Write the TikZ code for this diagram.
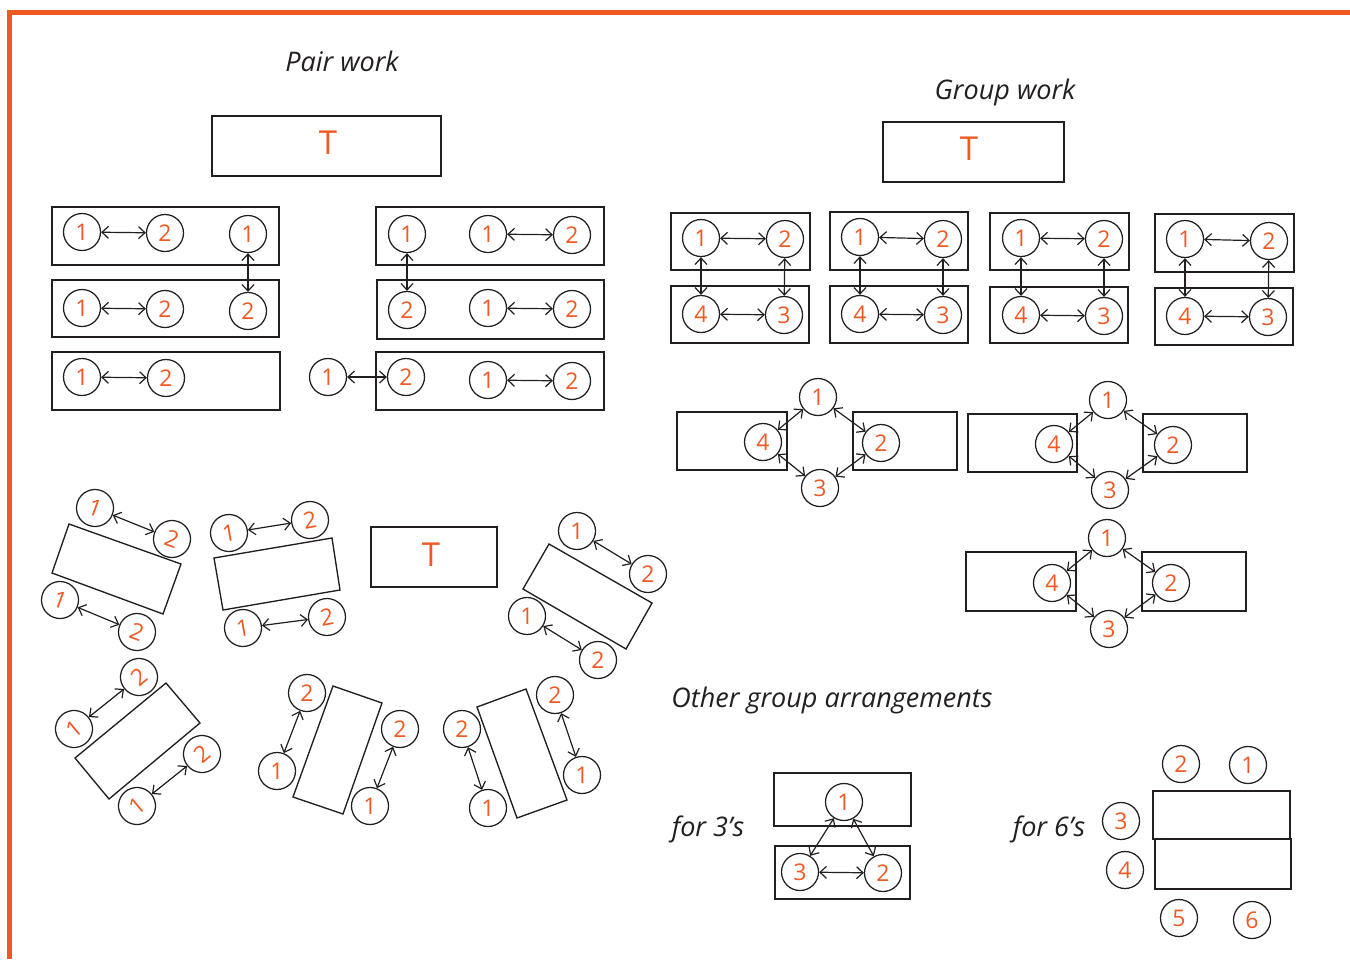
\documentclass[tikz,border=0pt]{standalone}
\usepackage{fontspec}
\setmainfont{Open Sans}
\usetikzlibrary{arrows.meta}
\definecolor{brand}{HTML}{EF5A24}
\definecolor{ink}{HTML}{231F20}
\tikzset{
  seat/.style={circle, draw=ink, line width=1.25pt, minimum size=37pt, inner sep=0pt,
    text=brand, font=\fontsize{23}{23}\selectfont},
  desk/.style={draw=ink, line width=1.35pt},
  link/.style={draw=ink, line width=1.2pt,
    {Straight Barb[length=6.5pt,width=12pt]}-{Straight Barb[length=6.5pt,width=12pt]}},
  title/.style={text=ink, font=\fontsize{27}{32}\selectfont\itshape},
  teacher/.style={text=brand, font=\fontsize{33}{33}\selectfont},
}
\begin{document}
\begin{tikzpicture}[x=1pt,y=-1pt]
\useasboundingbox (0,0) rectangle (1350,959);
% border
\draw[brand, line width=5pt] (9.5,959) -- (9.5,12) -- (1352,12);

% titles
\node[title] (tpair) at (342,61) {Pair work};
\node[title] (tgroup) at (1005,92) {Group work};
\node[title] (tother) at (832,700) {Other group arrangements};
\node[title] (t3) at (708,829) {for 3’s};
\node[title] (t6) at (1049,829) {for 6’s};

% teacher desks
\draw[desk] (212,116) rectangle (441,176);
\node[teacher] (T1) at (328,143) {T};
\draw[desk] (883,122) rectangle (1064,182);
\node[teacher] (T2) at (969,149) {T};
\draw[desk] (371,527) rectangle (497,587);
\node[teacher] (T3) at (431,555) {T};

% ---------- Pair work, left block
\draw[desk] (52,207) rectangle (279,265);
\draw[desk] (52,280) rectangle (279,337);
\draw[desk] (52,352) rectangle (280,410);
\node[seat] (a11) at (82,232) {1};
\node[seat] (a12) at (165,233) {2};
\node[seat] (a13) at (248,234) {1};
\node[seat] (a21) at (82,308) {1};
\node[seat] (a22) at (165,309) {2};
\node[seat] (a23) at (248,311) {2};
\node[seat] (a31) at (82,377) {1};
\node[seat] (a32) at (166,378) {2};
\draw[link] (a11) -- (a12);
\draw[link] (a21) -- (a22);
\draw[link] (a31) -- (a32);
\draw[link] (a13) -- (a23);

% ---------- Pair work, right block
\draw[desk] (376,207) rectangle (604,265);
\draw[desk] (377,280) rectangle (604,339);
\draw[desk] (376,352) rectangle (604,410);
\node[seat] (b11) at (407,234) {1};
\node[seat] (b12) at (488,234) {1};
\node[seat] (b13) at (572,235) {2};
\node[seat] (b21) at (407,310) {2};
\node[seat] (b22) at (488,308) {1};
\node[seat] (b23) at (572,309) {2};
\node[seat] (b30) at (328,377) {1};
\node[seat] (b31) at (406,377) {2};
\node[seat] (b32) at (488,380) {1};
\node[seat] (b33) at (572,381) {2};
\draw[link] (b12) -- (b13);
\draw[link] (b22) -- (b23);
\draw[link] (b32) -- (b33);
\draw[link] (b11) -- (b21);
\draw[link] (b30) -- (b31);

% ---------- Group work, four sets
\draw[desk] (671,213) rectangle (810,270);
\draw[desk] (671,286) rectangle (809,343);
\draw[desk] (830,212) rectangle (968,270);
\draw[desk] (830,286) rectangle (968,343);
\draw[desk] (990,213) rectangle (1129,270);
\draw[desk] (990,287) rectangle (1128,343);
\draw[desk] (1155,214) rectangle (1294,272);
\draw[desk] (1155,288) rectangle (1293,345);

\node[seat] (g1a) at (701,238) {1};
\node[seat] (g1b) at (785,239) {2};
\node[seat] (g1c) at (784,315) {3};
\node[seat] (g1d) at (701,314) {4};
\node[seat] (g2a) at (860,237) {1};
\node[seat] (g2b) at (943,239) {2};
\node[seat] (g2c) at (943,315) {3};
\node[seat] (g2d) at (860,314) {4};
\node[seat] (g3a) at (1021,238) {1};
\node[seat] (g3b) at (1104,239) {2};
\node[seat] (g3c) at (1104,316) {3};
\node[seat] (g3d) at (1021,315) {4};
\node[seat] (g4a) at (1185,239) {1};
\node[seat] (g4b) at (1269,241) {2};
\node[seat] (g4c) at (1268,317) {3};
\node[seat] (g4d) at (1185,316) {4};
\foreach \g in {g1,g2,g3,g4}{
  \draw[link] (\g a) -- (\g b);
  \draw[link] (\g d) -- (\g c);
  \draw[link] (\g a) -- (\g d);
  \draw[link] (\g b) -- (\g c);
}

% ---------- Group work, diamonds
\draw[desk] (677,412) rectangle (787,470);
\draw[desk] (853,412) rectangle (957,470);
\node[seat] (d1a) at (818,397) {1};
\node[seat] (d1b) at (881,443) {2};
\node[seat] (d1c) at (820,488) {3};
\node[seat] (d1d) at (763,442) {4};

\draw[desk] (968,414) rectangle (1077,472);
\draw[desk] (1143,414) rectangle (1247,472);
\node[seat] (d2a) at (1108,400) {1};
\node[seat] (d2b) at (1173,445) {2};
\node[seat] (d2c) at (1110,490) {3};
\node[seat] (d2d) at (1054,444) {4};

\draw[desk] (966,552) rectangle (1076,611);
\draw[desk] (1142,552) rectangle (1246,611);
\node[seat] (d3a) at (1107,538) {1};
\node[seat] (d3b) at (1171,583) {2};
\node[seat] (d3c) at (1109,629) {3};
\node[seat] (d3d) at (1052,583) {4};
\foreach \d in {d1,d2,d3}{
  \draw[link] (\d d) -- (\d a);
  \draw[link] (\d a) -- (\d b);
  \draw[link] (\d b) -- (\d c);
  \draw[link] (\d c) -- (\d d);
}

% ---------- Pair work, angled desks
% desk A
\draw[desk] (69,524) -- (181,564) -- (163,614) -- (52,573) -- cycle;
\node[seat, rotate=-20] (pa1) at (95,508) {1};
\node[seat, rotate=-20] (pa2) at (172,539) {2};
\node[seat, rotate=-20] (pa3) at (60,600) {1};
\node[seat, rotate=-20] (pa4) at (137,632) {2};
\draw[link] (pa1) -- (pa2);
\draw[link] (pa3) -- (pa4);
% desk B
\draw[desk] (214,558) -- (332,538) -- (340,590) -- (223,610) -- cycle;
\node[seat, rotate=10] (pb1) at (229,533) {1};
\node[seat, rotate=10] (pb2) at (310,520) {2};
\node[seat, rotate=10] (pb3) at (243,628) {1};
\node[seat, rotate=10] (pb4) at (327,617) {2};
\draw[link] (pb1) -- (pb2);
\draw[link] (pb3) -- (pb4);
% desk C
\draw[desk] (549,544) -- (652,603) -- (626,649) -- (523,589) -- cycle;
\node[seat] (pc1) at (577,531) {1};
\node[seat] (pc2) at (648,574) {2};
\node[seat] (pc3) at (527,616) {1};
\node[seat] (pc4) at (598,660) {2};
\draw[link] (pc1) -- (pc2);
\draw[link] (pc3) -- (pc4);
% desk D
\draw[desk] (166,683) -- (200,723) -- (109,799) -- (75,758) -- cycle;
\node[seat, rotate=40] (pd1) at (139,677) {2};
\node[seat, rotate=40] (pd2) at (74,729) {1};
\node[seat, rotate=40] (pd3) at (202,754) {2};
\node[seat, rotate=40] (pd4) at (137,806) {1};
\draw[link] (pd2) -- (pd1);
\draw[link] (pd4) -- (pd3);
% desk E
\draw[desk] (333,686) -- (382,703) -- (343,814) -- (293,797) -- cycle;
\node[seat] (pe1) at (307,693) {2};
\node[seat] (pe2) at (277,771) {1};
\node[seat] (pe3) at (400,729) {2};
\node[seat] (pe4) at (370,806) {1};
\draw[link] (pe1) -- (pe2);
\draw[link] (pe3) -- (pe4);
% desk F
\draw[desk] (477,707) -- (526,689) -- (567,800) -- (517,818) -- cycle;
\node[seat] (pf1) at (462,729) {2};
\node[seat] (pf2) at (488,808) {1};
\node[seat] (pf3) at (555,695) {2};
\node[seat] (pf4) at (582,775) {1};
\draw[link] (pf1) -- (pf2);
\draw[link] (pf3) -- (pf4);

% ---------- for 3's
\draw[desk] (774,773) rectangle (911,826);
\draw[desk] (775,846) rectangle (910,899);
\node[seat] (h1) at (844,802) {1};
\node[seat] (h3) at (800,872) {3};
\node[seat] (h2) at (883,873) {2};
\draw[link] (h1) -- (h3);
\draw[link] (h1) -- (h2);
\draw[link] (h3) -- (h2);

% ---------- for 6's
\draw[desk] (1153,791) rectangle (1290,839);
\draw[desk] (1155,839) rectangle (1291,889);
\node[seat] (s2) at (1181,764) {2};
\node[seat] (s1) at (1248,765) {1};
\node[seat] (s3) at (1121,821) {3};
\node[seat] (s4) at (1125,870) {4};
\node[seat] (s5) at (1179,918) {5};
\node[seat] (s6) at (1252,920) {6};
\end{tikzpicture}
\end{document}
